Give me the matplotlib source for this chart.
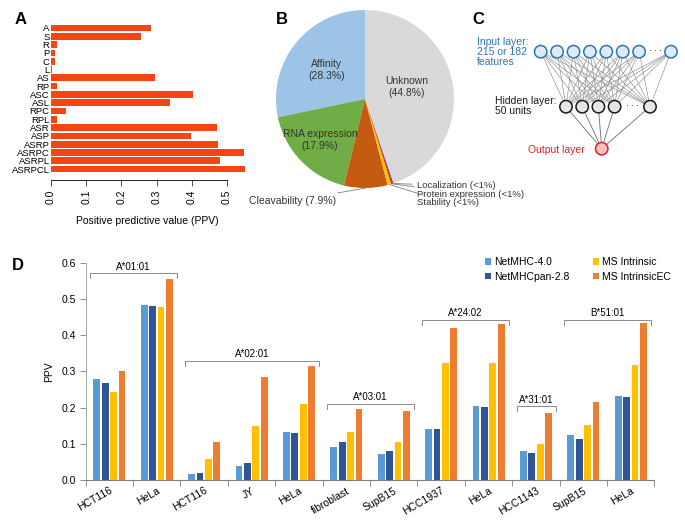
import matplotlib
matplotlib.use("Agg")
import matplotlib.pyplot as plt
import numpy as np
from matplotlib.patches import Circle

plt.rcParams["font.family"] = ["Liberation Sans", "DejaVu Sans"]

W, H = 685, 524

# A: PPV per feature combination
feature_sets = ["A", "S", "R", "P", "C", "L", "AS", "RP", "ASC", "ASL", "RPC", "RPL",
                "ASR", "ASP", "ASRP", "ASRPC", "ASRPL", "ASRPCL"]
feature_ppv = [0.283, 0.255, 0.016, 0.010, 0.011, 0.004, 0.295, 0.018, 0.404, 0.338,
               0.043, 0.018, 0.472, 0.398, 0.476, 0.548, 0.479, 0.551]

# B: contribution of features
pie_labels = ["Affinity", "RNA expression", "Cleavability", "Stability",
              "Protein expression", "Localization", "Unknown"]
pie_values = [28.3, 17.9, 7.9, 0.7, 0.2, 0.2, 44.8]
pie_colors = ["#9DC3E6", "#70AD47", "#C55A11", "#FFC000", "#C00000", "#7030A0", "#D9D9D9"]

# D: PPV per cell line / allele
cell_lines = ["HCT116", "HeLa", "HCT116", "JY", "HeLa", "fibroblast", "SupB15",
              "HCC1937", "HeLa", "HCC1143", "SupB15", "HeLa"]
alleles = ["A*01:01", "A*02:01", "A*03:01", "A*24:02", "A*31:01", "B*51:01"]
allele_span = [(0, 2), (2, 5), (5, 7), (7, 9), (9, 10), (10, 12)]
allele_level = [0.571, 0.329, 0.210, 0.442, 0.204, 0.442]
methods = ["NetMHC-4.0", "NetMHCpan-2.8", "MS Intrinsic", "MS IntrinsicEC"]
netmhc = [0.280, 0.482, 0.016, 0.040, 0.132, 0.092, 0.072, 0.142, 0.205, 0.080, 0.124, 0.232]
netmhcpan = [0.268, 0.481, 0.020, 0.047, 0.130, 0.106, 0.081, 0.141, 0.202, 0.074, 0.114, 0.229]
ms_intrinsic = [0.243, 0.478, 0.058, 0.149, 0.210, 0.133, 0.106, 0.322, 0.324, 0.099, 0.152, 0.317]
ms_intrinsic_ec = [0.302, 0.556, 0.106, 0.284, 0.316, 0.196, 0.190, 0.420, 0.432, 0.186, 0.216, 0.433]
method_colors = ["#5B9BD5", "#2F5597", "#FFC000", "#ED7D31"]


def rect(left, top, right, bottom):
    return [left / W, 1 - bottom / H, (right - left) / W, (bottom - top) / H]


fig = plt.figure(figsize=(6.85, 5.24), dpi=100)
fs = 7.5

# ---- A
ax = fig.add_axes(rect(51, 23, 248, 177))
for s in ["top", "right", "left"]:
    ax.spines[s].set_visible(False)
ax.spines["bottom"].set_position(("outward", 2))
ax.spines["bottom"].set_bounds(0, 0.5)
ax.spines["bottom"].set_linewidth(0.6)
ypos = np.arange(len(feature_sets))
ax.barh(ypos, feature_ppv, height=0.8, color="#F44512")
ax.set_ylim(17.95, -0.6)
ax.set_xlim(0, 0.56)
ax.set_yticks(ypos)
ax.set_yticklabels(feature_sets, fontsize=6.8)
ax.tick_params(axis="y", length=0, pad=1)
ax.set_xticks(np.arange(0, 0.51, 0.1))
ax.set_xticklabels([f"{v:.1f}" for v in np.arange(0, 0.51, 0.1)], rotation=90, fontsize=fs)
ax.tick_params(axis="x", length=4, width=0.6, color="#333333", pad=3)
fig.text(147 / W, 1 - 221 / H, "Positive predictive value (PPV)", fontsize=fs,
         ha="center", va="center")

# ---- B
axb = fig.add_axes(rect(240, 1, 490, 215))
wedges, _ = axb.pie(pie_values, colors=pie_colors, startangle=90, counterclock=True,
                    wedgeprops=dict(linewidth=0))
axb.set_xlim(-125 / 89, 125 / 89)
axb.set_ylim(-116 / 89, 98 / 89)
axb.set_aspect("equal")
axb.axis("off")
txt = "#333333"
axb.text(-0.427, 0.326, "Affinity\n(28.3%)", ha="center", va="center", fontsize=fs, color=txt)
axb.text(0.472, 0.135, "Unknown\n(44.8%)", ha="center", va="center", fontsize=fs, color=txt)
axb.text(-0.506, -0.461, "RNA expression\n(17.9%)", ha="center", va="center", fontsize=fs, color=txt)


def edge_point(w):
    a = np.deg2rad((w.theta1 + w.theta2) / 2)
    return np.cos(a), np.sin(a)


axb.annotate("Cleavability (7.9%)", xy=edge_point(wedges[2]), xytext=(-0.33, -1.146),
             ha="right", va="center", fontsize=fs, color=txt, annotation_clip=False,
             arrowprops=dict(arrowstyle="-", color="#7F7F7F", lw=0.6, shrinkA=1, shrinkB=0))
small_y = {5: -0.975, 4: -1.07, 3: -1.165}
for i, yt in small_y.items():
    axb.annotate(f"{pie_labels[i]} (<1%)", xy=edge_point(wedges[i]), xytext=(0.58, yt),
                 ha="left", va="center", fontsize=6.8, color=txt, annotation_clip=False,
                 arrowprops=dict(arrowstyle="-", color="#7F7F7F", lw=0.6, shrinkA=1, shrinkB=0))

# ---- C
axc = fig.add_axes(rect(470, 30, 685, 165))
axc.set_xlim(470, 685)
axc.set_ylim(165, 30)
axc.axis("off")
n_in, n_hid = 7, 4
in_x = list(540.7 + 16.4 * np.arange(n_in)) + [671]
hid_x = list(566 + 16.2 * np.arange(n_hid)) + [650]
in_y, hid_y, out_x, out_y = 51.7, 106.7, 601.7, 148.7
r = 6.2
for xi in in_x:
    for xh in hid_x:
        axc.plot([xi, xh], [in_y, hid_y], color="#8C8C8C", lw=0.45, zorder=1)
for xh in hid_x:
    axc.plot([xh, out_x], [hid_y, out_y], color="#6E6E6E", lw=0.6, zorder=1)
for xi in in_x:
    axc.add_patch(Circle((xi, in_y), r, facecolor="#DEEBF7", edgecolor="#2E75B6", lw=1.1, zorder=3))
for xh in hid_x:
    axc.add_patch(Circle((xh, hid_y), r, facecolor="#E7E6E6", edgecolor="#1A1A1A", lw=1.1, zorder=3))
axc.add_patch(Circle((out_x, out_y), r, facecolor="#F8C0C0", edgecolor="#E0202A", lw=1.1, zorder=3))
axc.text((in_x[-2] + in_x[-1]) / 2, in_y, "· · ·", ha="center", va="center", fontsize=6)
axc.text((hid_x[-2] + hid_x[-1]) / 2, hid_y, "· · ·", ha="center", va="center", fontsize=6)
axc.text(477, 52, "Input layer:\n215 or 182\nfeatures", ha="left", va="center",
         fontsize=fs, color="#2E75B6", linespacing=1.05)
axc.text(495, 106, "Hidden layer:\n50 units", ha="left", va="center", fontsize=fs,
         color="#1A1A1A", linespacing=1.05)
axc.text(585, 150, "Output layer", ha="right", va="center", fontsize=fs, color="#E0202A")

# ---- D
axd = fig.add_axes(rect(85.7, 262.7, 654.5, 480))
x = np.arange(len(cell_lines)) + 0.5
series = [netmhc, netmhcpan, ms_intrinsic, ms_intrinsic_ec]
step, bw = 0.178, 0.142
handles = []
for k, (vals, col, name) in enumerate(zip(series, method_colors, methods)):
    b = axd.bar(x + (k - 1.5) * step, vals, width=bw, color=col, label=name)
    handles.append(b)
axd.set_xlim(0, len(cell_lines))
axd.set_ylim(0, 0.6)
axd.set_yticks(np.arange(0, 0.61, 0.1))
axd.set_yticklabels([f"{v:.1f}" for v in np.arange(0, 0.61, 0.1)], fontsize=fs)
axd.set_xticks(np.arange(0, len(cell_lines) + 1))
axd.set_xticklabels([])
axd.set_xticks(x, minor=True)
axd.set_xticklabels(cell_lines, minor=True, rotation=30, ha="right",
                    rotation_mode="anchor", fontsize=fs)
axd.tick_params(axis="x", which="minor", length=0, pad=4)
axd.tick_params(axis="x", which="major", length=4, width=0.6, color="#7F7F7F")
axd.tick_params(axis="y", length=4, width=0.6, color="#7F7F7F", pad=3)
for s in ["top", "right"]:
    axd.spines[s].set_visible(False)
axd.spines["left"].set_color("#A6A6A6")
axd.spines["bottom"].set_color("#7F7F7F")
axd.spines["left"].set_linewidth(0.7)
axd.spines["bottom"].set_linewidth(0.8)
axd.set_ylabel("PPV", fontsize=fs, labelpad=5)
tick_h = 0.013
for name, (a, b), lev in zip(alleles, allele_span, allele_level):
    x0, x1 = a + 0.1, b - 0.08
    axd.plot([x0, x0, x1, x1], [lev - tick_h, lev, lev, lev - tick_h], color="#8C8C8C",
             lw=0.7, clip_on=False)
    axd.text((x0 + x1) / 2, lev + 0.004, name, ha="center", va="bottom", fontsize=7)
fig.legend(handles=handles, labels=methods, loc="upper left",
           bbox_to_anchor=(485 / W, 1 - 257 / H), ncol=2, frameon=False, fontsize=fs,
           handlelength=0.6, handleheight=0.6, handletextpad=0.3, columnspacing=2.2,
           labelspacing=0.45, borderpad=0, borderaxespad=0)

# panel letters
for letter, px, py in [("A", 21, 19), ("B", 282, 19), ("C", 478, 19), ("D", 18, 265)]:
    fig.text(px / W, 1 - py / H, letter, fontsize=12, fontweight="bold", ha="center", va="center")

fig.savefig("out.png", dpi=100)
